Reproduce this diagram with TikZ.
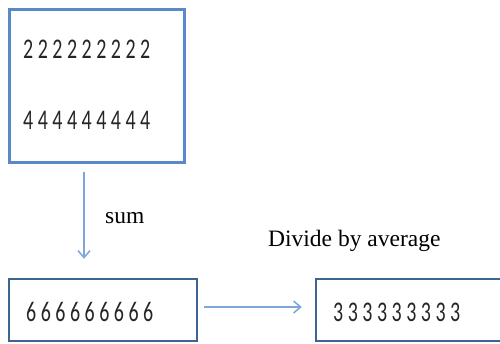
\documentclass[tikz,border=0pt]{standalone}
\usepackage{fontspec}
\setmainfont{Liberation Serif}
\newfontfamily\digitfont[FakeStretch=0.7,LetterSpace=15.8]{Carlito}
\usetikzlibrary{arrows.meta,calc}
\definecolor{boxtop}{HTML}{5A88C8}
\definecolor{boxbot}{HTML}{3E6496}
\definecolor{arrowc}{HTML}{7FA6D8}
\tikzset{
  topbox/.style={draw=boxtop,line width=3pt,inner sep=0pt},
  botbox/.style={draw=boxbot,line width=2.5pt,inner sep=0pt},
  digits/.style={anchor=base west,inner sep=0pt,font=\digitfont\fontsize{28.5}{30}\selectfont,text=black!85},
  lbl/.style={anchor=base west,inner sep=0pt,font=\fontsize{23.5}{26}\selectfont},
  arr/.style={draw=arrowc,line width=1.5pt,-{Straight Barb[length=7pt,width=12pt]}}
}
\begin{document}
\begin{tikzpicture}[x=1pt,y=-1pt]
\clip (0,0) rectangle (500,343);
\fill[white] (0,0) rectangle (500,343);
\node[topbox,minimum width=175pt,minimum height=153pt] (top) at (96.5,86) {};
\node[botbox,minimum width=188pt,minimum height=62pt] (sumbox) at (103,310) {};
\node[botbox,minimum width=220pt,minimum height=62pt] (avgbox) at (426,310) {};
\node[digits] (r1) at (23,58) {222222222};
\node[digits] (r2) at (23,129) {444444444};
\node[digits] (s) at (26,321) {666666666};
\node[digits] (a) at (333,321) {333333333};
\node[lbl] (sumlbl) at (105,223) {sum};
\node[lbl] (divlbl) at (268,246) {Divide by average};
\coordinate (vx) at (84,0);
\coordinate (hy) at (0,307);
\draw[arr,shorten <=8pt,shorten >=19pt] (top.south -| vx) -- (sumbox.north -| vx);
\draw[arr,shorten <=6pt,shorten >=13pt] (sumbox.east |- hy) -- (avgbox.west |- hy);
\end{tikzpicture}
\end{document}
